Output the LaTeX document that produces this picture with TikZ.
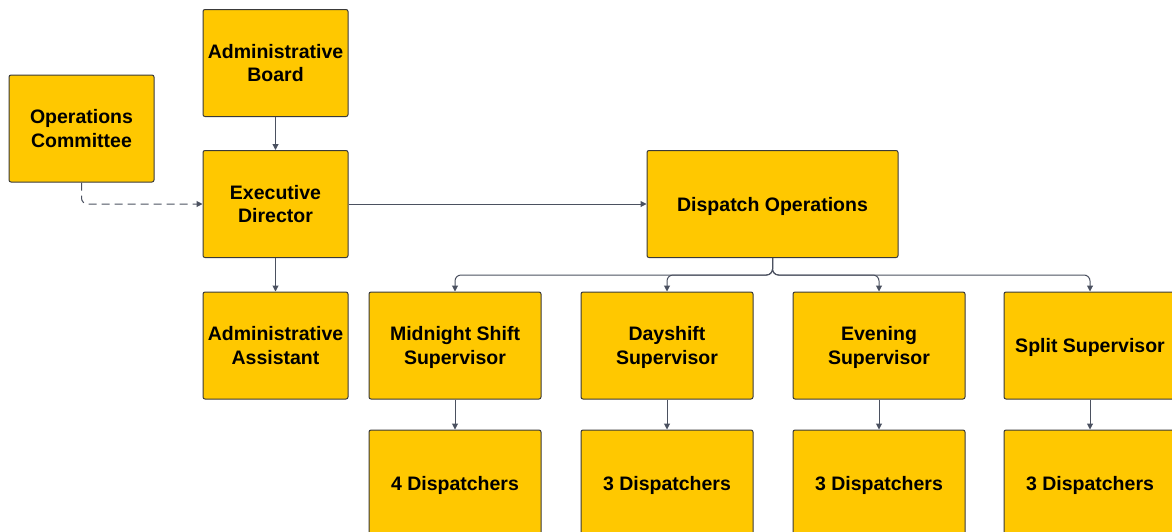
\documentclass[tikz,border=0pt]{standalone}
\usepackage{fontspec}
\setmainfont{Liberation Sans}
\usetikzlibrary{arrows.meta}
\definecolor{boxfill}{HTML}{FFC800}
\definecolor{boxline}{HTML}{3A3A3A}
\definecolor{conn}{HTML}{4B5160}
\tikzset{
  orgbox/.style={draw=boxline, line width=1pt, fill=boxfill, rounded corners=2pt,
    minimum width=145pt, minimum height=107pt, inner sep=2pt, align=center,
    text depth=0pt,
    font=\fontsize{19.5}{23.5}\selectfont\bfseries, text=black},
  widebox/.style={orgbox, minimum width=172pt},
  conn/.style={draw=conn, line width=1pt, -{Triangle[length=6pt,width=6pt]}},
}
\begin{document}
\begin{tikzpicture}[x=1pt,y=-1pt]
\useasboundingbox (0,0) rectangle (1172,531);
\node[orgbox] (oc) at (81.5,128.5) {Operations\\Committee};
\node[orgbox] (ab) at (275.5,63) {Administrative\\Board};
\node[orgbox] (ed) at (275.5,204) {Executive\\Director};
\node[orgbox] (aa) at (275.5,345.5) {Administrative\\Assistant};
\node[orgbox, minimum width=251pt] (do) at (772.5,204) {Dispatch Operations};
\node[widebox] (s1) at (455,345.5) {Midnight Shift\\Supervisor};
\node[widebox] (s2) at (667,345.5) {Dayshift\\Supervisor};
\node[widebox] (s3) at (879,345.5) {Evening\\Supervisor};
\node[widebox] (s4) at (1090,345.5) {Split Supervisor};
\node[widebox] (d1) at (455,483.5) {4 Dispatchers};
\node[widebox] (d2) at (667,483.5) {3 Dispatchers};
\node[widebox] (d3) at (879,483.5) {3 Dispatchers};
\node[widebox] (d4) at (1090,483.5) {3 Dispatchers};
\draw[conn] (ab) -- (ed);
\draw[conn] (ed) -- (aa);
\draw[conn] (ed) -- (do);
\draw[conn, dashed, dash pattern=on 8pt off 5pt, rounded corners=6pt] (oc.south) |- (ed.west);
\foreach \s in {s1,s2,s3,s4}{
  \draw[conn, rounded corners=6pt] (do.south) -- ++(0,17) -| (\s.north);
}
\draw[conn] (s1) -- (d1);
\draw[conn] (s2) -- (d2);
\draw[conn] (s3) -- (d3);
\draw[conn] (s4) -- (d4);
\end{tikzpicture}
\end{document}
